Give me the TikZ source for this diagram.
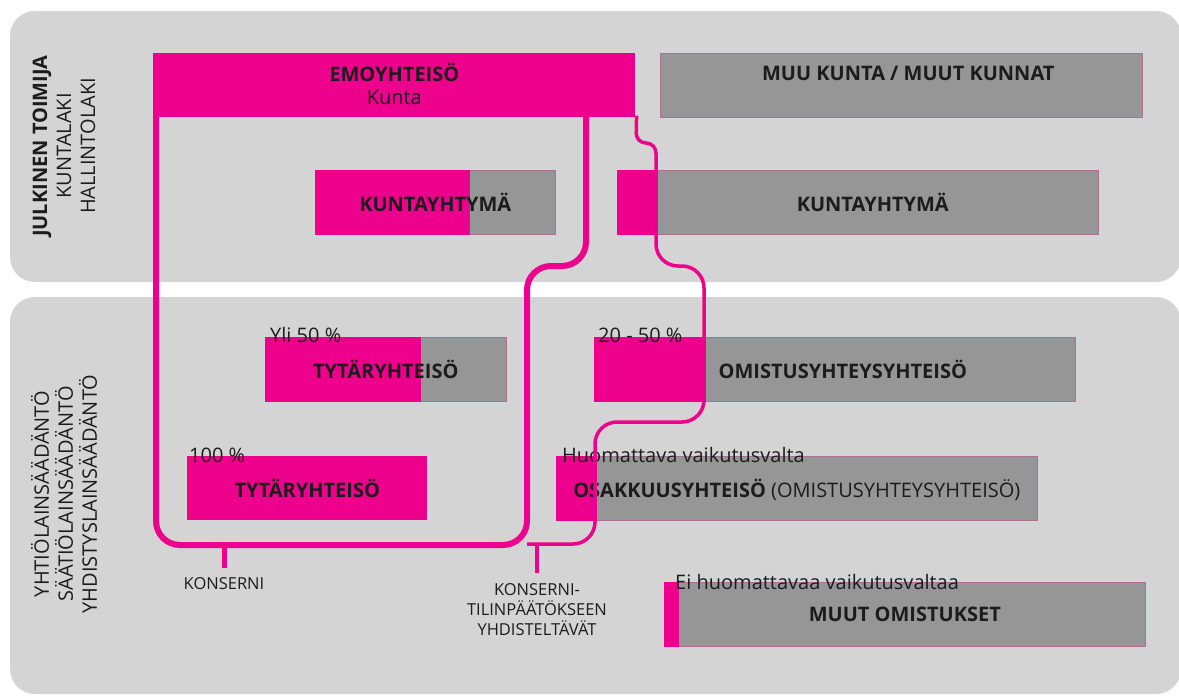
\documentclass[tikz,border=0pt]{standalone}
\usepackage{fontspec}
\setmainfont{Open Sans}
\usetikzlibrary{positioning, calc}
\definecolor{emocolor}{RGB}{236,0,140}
\definecolor{boxgray}{RGB}{150,150,150}
\definecolor{panelgray}{RGB}{212,212,212}
\definecolor{inkcolor}{RGB}{28,28,28}

\tikzset{
  panel/.style={fill=panelgray, rounded corners=25},
  ownbox/.style={fill=boxgray, draw=emocolor!25!boxgray, line width=0.6, minimum height=64, inner sep=0, anchor=north west},
  boxtext/.style={font=\fontsize{20}{25}\selectfont\bfseries, text=inkcolor, align=center},
  sharetext/.style={font=\fontsize{20}{24}\selectfont, text=inkcolor, anchor=base west, inner sep=0},
  lawtext/.style={font=\fontsize{20}{24}\selectfont, text=inkcolor, rotate=90, align=center},
  notetext/.style={font=\fontsize{16.5}{20}\selectfont, text=inkcolor, align=center, inner sep=0},
  konsline/.style={draw=emocolor, line width=6, rounded corners=24},
  yhdline/.style={draw=emocolor, line width=3.5, rounded corners=22}
}

\begin{document}
\begin{tikzpicture}[x=1pt, y=-1pt]
  \useasboundingbox (0,0) rectangle (1179,697);
  \clip (0,0) rectangle (1179,697);

  % Taustat
  \fill[panel] (10,11) rectangle (1181,282);
  \fill[panel] (10,297) rectangle (1181,694);
  \node[lawtext] (julk) at (64,146) {\textbf{JULKINEN TOIMIJA}\\KUNTALAKI\\HALLINTOLAKI};
  \node[lawtext] (yhtio) at (64,494) {YHTIÖLAINSÄÄDÄNTÖ\\SÄÄTIÖLAINSÄÄDÄNTÖ\\YHDISTYSLAINSÄÄDÄNTÖ};

  % Emoyhteisö ja muut kunnat
  \node[ownbox, fill=emocolor, draw=none, minimum width=482] (emo) at (153,53) {};
  \node[boxtext, font=\fontsize{20}{23}\selectfont\bfseries] at ($(emo)+(0,-1)$) {EMOYHTEISÖ\\\mdseries Kunta};
  \node[ownbox, minimum width=482] (muu) at (660,53) {};
  \node[boxtext] at ($(muu)+(7,-12)$) {MUU KUNTA / MUUT KUNNAT};

  % Kuntayhtymät
  \node[ownbox, minimum width=240] (kyl) at (315,170) {};
  \fill[emocolor] (kyl.north west) rectangle ($(kyl.south west)+(155,0)$);
  \node[boxtext] at (kyl) {KUNTAYHTYMÄ};
  \node[ownbox, minimum width=481] (kyr) at (617,170) {};
  \fill[emocolor] (kyr.north west) rectangle ($(kyr.south west)+(41,0)$);
  \node[boxtext] at ($(kyr)+(15,0)$) {KUNTAYHTYMÄ};

  % Tytäryhteisöt
  \node[ownbox, minimum width=241] (tyt) at (265,337) {};
  \fill[emocolor] (tyt.north west) rectangle ($(tyt.south west)+(156,0)$);
  \node[boxtext] at (tyt) {TYTÄRYHTEISÖ};
  \node[ownbox, fill=emocolor, draw=none, minimum width=240] (tytsata) at (187,456) {};
  \node[boxtext] at (tytsata) {TYTÄRYHTEISÖ};

  % Omistusyhteys ja osakkuus
  \node[ownbox, minimum width=481] (omis) at (594,337) {};
  \fill[emocolor] (omis.north west) rectangle ($(omis.south west)+(112,0)$);
  \node[boxtext] at ($(omis)+(8,0)$) {OMISTUSYHTEYSYHTEISÖ};
  \node[ownbox, minimum width=481] (osak) at (556,456) {};
  \fill[emocolor] (osak.north west) rectangle ($(osak.south west)+(39,0)$);
  \node[boxtext] at ($(osak)+(0,2)$) {OSAKKUUSYHTEISÖ {\mdseries(OMISTUSYHTEYSYHTEISÖ)}};
  \node[ownbox, minimum width=481] (muut) at (664,582) {};
  \fill[emocolor] (muut.north west) rectangle ($(muut.south west)+(15,0)$);
  \node[boxtext] at (muut) {MUUT OMISTUKSET};

  % Osuudet
  \node[sharetext] (yli) at (270,342) {Yli 50 \%};
  \node[sharetext] (kaksk) at (598,342) {20 - 50 \%};
  \node[sharetext] (sata) at (189,462) {100 \%};
  \node[sharetext] (huom) at (562,462) {Huomattava vaikutusvalta};
  \node[sharetext] (eihuom) at (675,589) {Ei huomattavaa vaikutusvaltaa};

  % Konserni
  \draw[konsline] ($(emo.south west)+(3,-2)$) -- (156,545) -- (527,545) -- (527,266)
    -- (586,266) -- ($(emo.south west)+(433,-2)$);
  \node[notetext, anchor=base] (kons) at (224,589) {KONSERNI};
  \draw[emocolor, line width=5] (kons.north |- 0,545) -- ($(kons.north)+(0,-9)$);

  % Yhdisteltävät
  \draw[yhdline] ($(emo.south east)+(1,-2)$) [rounded corners=10] -- (636,143) -- (656,143)
    [rounded corners=22] -- (656,266) -- (704,266) -- (704,422) -- (595,422) -- (595,544) -- (527,544);
  \node[notetext, anchor=north] (yhd) at (537,583) {KONSERNI-\\TILINPÄÄTÖKSEEN\\YHDISTELTÄVÄT};
  \draw[emocolor, line width=3.5] (yhd.north |- 0,544) -- ($(yhd.north)+(0,-10)$);
\end{tikzpicture}
\end{document}
